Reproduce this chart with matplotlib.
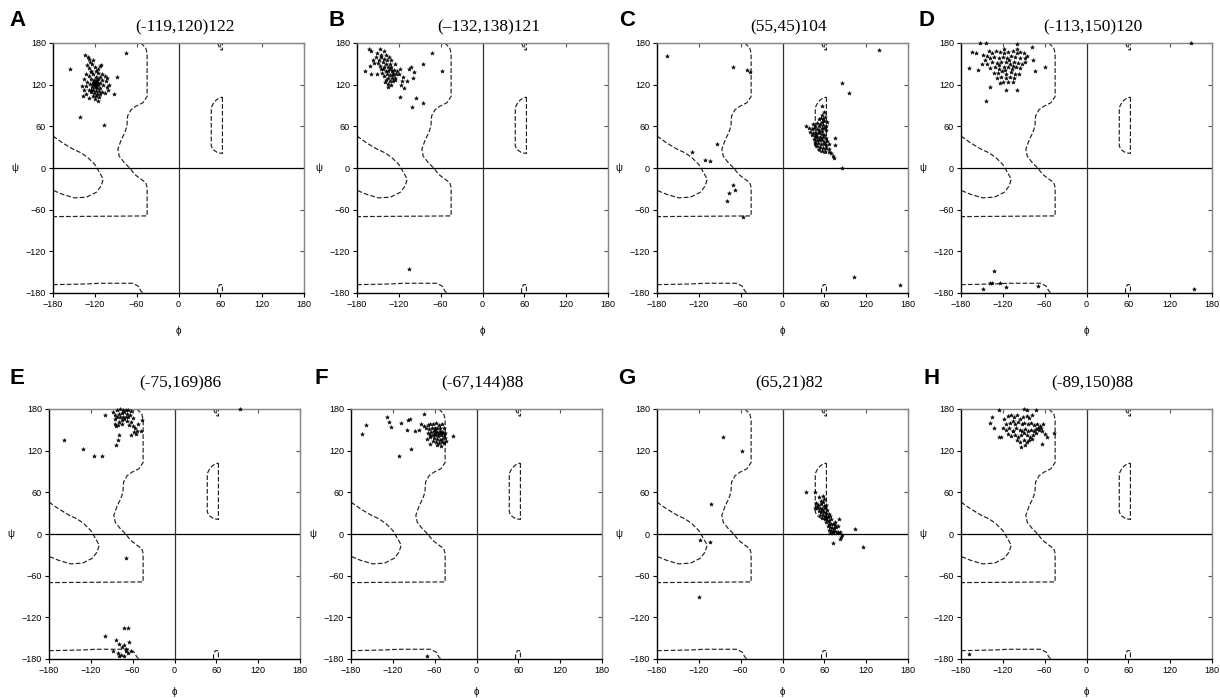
import numpy as np
import matplotlib.pyplot as plt

plt.rcParams['font.family'] = ['Liberation Sans', 'DejaVu Sans']

panel_letters = ['A', 'B', 'C', 'D', 'E', 'F', 'G', 'H']
panel_titles = ['(-119,120)122', '(\u2013132,138)121', '(55,45)104', '(-113,150)120',
                '(-75,169)86', '(-67,144)88', '(65,21)82', '(-89,150)88']
ticks = [-180, -120, -60, 0, 60, 120, 180]

# allowed-region outlines (phi, psi), same in every panel
region_main = [(-54, 180), (-47, 173), (-45, 165), (-45, 103), (-51, 94), (-61, 89), (-68, 84),
               (-73, 75), (-74, 60), (-77, 51), (-82, 41), (-87, 27), (-85, 17), (-78, 8),
               (-70, 0), (-63, -9), (-54, -16), (-47, -21), (-45, -28), (-45, -69), (-180, -70)]
region_left = [(-180, 46), (-166, 36), (-151, 27), (-140, 22), (-130, 15), (-120, 5), (-113, -7),
               (-108, -16), (-111, -26), (-118, -35), (-132, -42), (-149, -43), (-166, -38),
               (-178, -33), (-180, -33)]
region_bottom = [(-180, -168), (-132, -167), (-113, -166), (-66, -166), (-58, -170), (-54, -177),
                 (-51, -180)]
region_alphaL = [(63, 102), (63, 21), (56, 22), (49, 27), (47, 32), (47, 87), (51, 95), (58, 101),
                 (63, 102)]
region_top60 = [(56, 180), (58, 175), (61, 170), (63, 170), (63, 180)]
region_bot60 = [(56, -180), (56, -172), (59, -168), (63, -168), (63, -180)]
regions = [region_main, region_left, region_bottom, region_alphaL, region_top60, region_bot60]

A_pts = [(-155, 143), (-75, 166), (-141, 73), (-107, 62), (-88, 131), (-93, 107),
         (-134, 163), (-130, 160), (-128, 157), (-127, 152), (-124, 150), (-111, 149), (-113, 147),
         (-120, 145), (-129, 144), (-126, 140), (-118, 139), (-115, 137), (-110, 136), (-132, 136),
         (-122, 135), (-128, 132), (-119, 131), (-113, 131), (-106, 133), (-135, 128), (-125, 128),
         (-121, 127), (-117, 127), (-110, 127), (-104, 125), (-131, 124), (-123, 124), (-119, 123),
         (-115, 123), (-112, 122), (-127, 121), (-121, 120), (-118, 120), (-116, 119), (-108, 119),
         (-133, 118), (-124, 117), (-120, 116), (-117, 115), (-113, 115), (-103, 116), (-129, 113),
         (-122, 112), (-119, 111), (-114, 111), (-110, 110), (-136, 112), (-126, 109), (-121, 108),
         (-117, 107), (-112, 106), (-105, 108), (-137, 104), (-132, 106), (-123, 104), (-118, 103),
         (-114, 102), (-120, 99), (-116, 97), (-128, 101), (-101, 112), (-99, 120), (-139, 118),
         (-102, 130), (-125, 138), (-116, 142), (-131, 148), (-122, 155), (-119, 126), (-123, 121),
         (-118, 117), (-120, 123), (-115, 128), (-125, 113)]

B_pts = [(-163, 171), (-160, 168), (-152, 165), (-147, 172), (-141, 168), (-138, 163), (-145, 160),
         (-153, 160), (-157, 156), (-149, 156), (-141, 157), (-137, 155), (-143, 152), (-150, 151),
         (-155, 151), (-139, 150), (-133, 150), (-147, 147), (-141, 146), (-136, 146), (-131, 145),
         (-161, 147), (-168, 139), (-160, 136), (-151, 136), (-144, 137), (-139, 139), (-135, 140),
         (-130, 139), (-127, 141), (-122, 140), (-137, 135), (-132, 134), (-128, 134), (-124, 135),
         (-141, 132), (-135, 130), (-130, 129), (-125, 130), (-138, 127), (-133, 125), (-128, 126),
         (-135, 121), (-131, 120), (-136, 117), (-118, 142), (-120, 135), (-126, 150), (-131, 156),
         (-134, 160), (-103, 146), (-98, 138), (-99, 130), (-114, 131), (-115, 125), (-117, 119),
         (-113, 115), (-109, 125), (-105, 143), (-119, 102), (-96, 101), (-101, 88), (-86, 94),
         (-85, 150), (-73, 166), (-58, 139), (-105, -145), (-146, 143), (-143, 143), (-129, 137),
         (-126, 127), (-140, 124), (-145, 163), (-133, 143)]

C_pts = [(56, 89), (59, 80), (57, 76), (61, 74), (55, 72), (52, 70), (60, 68), (57, 66), (64, 66),
         (50, 65), (54, 64), (58, 62), (47, 61), (52, 60), (56, 58), (60, 57), (34, 60), (38, 58),
         (42, 56), (45, 57), (49, 56), (53, 55), (57, 53), (62, 55), (40, 52), (44, 51), (48, 50),
         (52, 50), (56, 49), (60, 48), (43, 47), (47, 46), (50, 45), (54, 45), (58, 44), (62, 43),
         (45, 42), (49, 41), (52, 40), (56, 40), (60, 38), (64, 39), (47, 37), (51, 36), (55, 35),
         (59, 34), (63, 33), (67, 35), (50, 32), (54, 30), (58, 29), (62, 29), (66, 28), (52, 27),
         (57, 25), (61, 24), (66, 23), (69, 21), (72, 18), (74, 15), (48, 48), (53, 52), (55, 42),
         (46, 35), (58, 71), (62, 61), (44, 63),
         (75, 33), (75, 43), (85, 0), (85, 122), (95, 108), (138, 170), (103, -157), (168, -168),
         (-165, 161), (-71, 146), (-51, 141), (-47, 138), (-130, 23), (-111, 12), (-104, 10),
         (-94, 35), (-71, -25), (-68, -32), (-77, -36), (-80, -47), (-56, -70)]

D_pts = [(-153, 180), (-144, 180), (-100, 178), (150, 180), (154, -174), (-133, -149), (-136, -166),
         (-139, -166), (-124, -165), (-148, -174), (-115, -172), (-69, -170),
         (-144, 96), (-139, 116), (-116, 112), (-100, 113), (-168, 144), (-155, 141), (-164, 167),
         (-159, 166), (-59, 145), (-74, 139), (-77, 156), (-78, 174), (-88, 153),
         (-148, 163), (-140, 168), (-135, 165), (-130, 168), (-124, 167), (-118, 166), (-112, 167),
         (-106, 168), (-100, 166), (-95, 167), (-90, 165), (-85, 162), (-145, 155), (-138, 158),
         (-132, 160), (-126, 159), (-120, 160), (-114, 159), (-108, 161), (-102, 160), (-96, 159),
         (-150, 150), (-142, 150), (-135, 152), (-128, 151), (-122, 153), (-116, 152), (-110, 150),
         (-104, 153), (-98, 151), (-92, 150), (-138, 144), (-131, 145), (-125, 143), (-119, 146),
         (-113, 145), (-107, 143), (-101, 145), (-95, 144), (-133, 137), (-127, 137), (-121, 139),
         (-115, 136), (-109, 138), (-103, 136), (-97, 135), (-128, 130), (-122, 131), (-116, 130),
         (-110, 131), (-104, 129), (-120, 124), (-113, 124), (-124, 122), (-106, 124), (-117, 141),
         (-111, 155), (-105, 147), (-126, 148), (-118, 171), (-100, 172), (-142, 162), (-88, 158)]

E_pts = [(-159, 135), (-131, 123), (-116, 112), (-104, 112), (-84, 128), (-81, 135), (-79, 142),
         (-99, 171), (-86, 159), (-70, -34), (94, 180),
         (-100, -147), (-72, -136), (-67, -135), (-84, -152), (-65, -156), (-79, -158), (-73, -160),
         (-81, -172), (-77, -174), (-70, -169), (-67, -171), (-62, -168), (-88, -169), (-75, -163),
         (-69, -165), (-73, -175), (-80, -176),
         (-88, 175), (-83, 178), (-78, 180), (-74, 179), (-70, 178), (-66, 179), (-62, 177),
         (-85, 172), (-80, 173), (-76, 174), (-72, 175), (-68, 173), (-64, 172), (-82, 168),
         (-78, 169), (-74, 168), (-70, 169), (-66, 168), (-76, 164), (-72, 165), (-80, 162),
         (-68, 163), (-84, 156), (-76, 159), (-65, 157), (-60, 156), (-57, 152), (-54, 149),
         (-48, 149), (-46, 164), (-55, 144), (-62, 142), (-58, 147), (-52, 158), (-63, 162),
         (-59, 167), (-86, 165), (-81, 157)]

F_pts = [(-164, 144), (-158, 157), (-129, 168), (-126, 161), (-123, 154), (-108, 160), (-100, 150),
         (-98, 164), (-95, 166), (-111, 113), (-94, 123), (-75, 173), (-88, 149), (-83, 150),
         (-71, 137), (-66, 129), (-71, -176), (-34, 141),
         (-80, 158), (-76, 155), (-73, 152), (-70, 157), (-66, 159), (-62, 158), (-58, 160),
         (-54, 157), (-49, 158), (-68, 151), (-64, 152), (-60, 153), (-56, 152), (-52, 153),
         (-47, 152), (-69, 146), (-65, 147), (-61, 148), (-57, 147), (-53, 146), (-49, 147),
         (-45, 146), (-63, 142), (-59, 143), (-55, 141), (-51, 142), (-47, 141), (-66, 140),
         (-61, 138), (-57, 137), (-53, 136), (-49, 137), (-45, 138), (-58, 132), (-54, 131),
         (-50, 132), (-46, 131), (-56, 128), (-51, 127), (-62, 134), (-44, 134), (-67, 143),
         (-59, 150), (-48, 145), (-55, 144), (-52, 149), (-60, 145)]

G_pts = [(-85, 140), (-58, 120), (-102, 43), (-118, -9), (-104, -12), (-120, -90), (33, 61), (46, 61),
         (104, 7), (116, -18), (73, -13), (81, 21),
         (53, 53), (55, 47), (58, 46), (59, 50), (48, 44), (51, 42), (55, 43), (59, 41), (62, 42),
         (47, 38), (50, 37), (54, 38), (57, 36), (61, 37), (64, 35), (52, 33), (55, 32), (59, 31),
         (63, 30), (66, 29), (54, 28), (58, 27), (61, 25), (65, 25), (68, 26), (57, 23), (61, 21),
         (64, 20), (67, 19), (70, 21), (62, 17), (66, 15), (69, 14), (72, 15), (75, 13), (65, 11),
         (68, 10), (71, 9), (74, 8), (77, 10), (67, 6), (70, 5), (73, 4), (76, 5), (80, 3), (68, 2),
         (72, 1), (78, 1), (83, 3), (84, -4), (86, -2), (82, -7), (76, 17), (80, 12), (58, 55),
         (50, 40), (56, 34), (63, 26)]

H_pts = [(-169, -173), (-47, 145), (-64, 130), (-94, 125), (-136, 169), (-138, 160), (-133, 152),
         (-126, 140), (-123, 139), (-126, 178), (-85, 179), (-73, 179), (-89, 180),
         (-118, 165), (-113, 170), (-108, 172), (-104, 168), (-100, 171), (-95, 166), (-91, 168),
         (-86, 170), (-82, 167), (-78, 171), (-115, 158), (-110, 160), (-106, 163), (-102, 159),
         (-98, 161), (-93, 158), (-89, 160), (-84, 158), (-80, 160), (-75, 157), (-71, 159),
         (-67, 156), (-120, 152), (-116, 150), (-111, 153), (-106, 148), (-101, 152), (-96, 150),
         (-92, 148), (-88, 151), (-84, 149), (-80, 150), (-76, 148), (-72, 151), (-68, 150),
         (-64, 148), (-60, 144), (-113, 144), (-108, 141), (-103, 143), (-98, 140), (-94, 143),
         (-89, 146), (-85, 142), (-81, 140), (-77, 143), (-73, 145), (-69, 152), (-65, 153),
         (-100, 135), (-95, 133), (-90, 135), (-86, 132), (-82, 136), (-78, 137), (-88, 128),
         (-105, 148), (-57, 140), (-62, 158)]

all_pts = [A_pts, B_pts, C_pts, D_pts, E_pts, F_pts, G_pts, H_pts]

W, H = 1220, 698
fig = plt.figure(figsize=(W / 100, H / 100), dpi=100)

# axes boxes in pixels: left, top
boxes = [(53, 43), (357, 43), (657, 43), (961, 43),
         (49, 409), (351, 409), (657, 409), (961, 409)]
aw, ah = 251, 250

for i in range(8):
    left, top = boxes[i]
    ax = fig.add_axes([left / W, 1 - (top + ah) / H, aw / W, ah / H])
    ax.set_xlim(-180, 180)
    ax.set_ylim(-180, 180)

    for reg in regions:
        r = np.array(reg)
        ax.plot(r[:, 0], r[:, 1], color='#222222', lw=0.85, dashes=(4, 1.8))

    ax.axhline(0, color='k', lw=0.9)
    ax.axvline(0, color='#333333', lw=0.9)

    p = np.array(all_pts[i])
    ax.plot(p[:, 0], p[:, 1], '*', color='k', ms=3.0, mew=0.3, clip_on=False, zorder=5)

    ax.set_xticks(ticks)
    ax.set_yticks(ticks)
    ax.tick_params(labelsize=6.5, length=3, width=0.8, pad=2)
    for s in ['left', 'bottom']:
        ax.spines[s].set_linewidth(1.0)
    for s in ['top', 'right']:
        ax.spines[s].set_color('#888888')
        ax.spines[s].set_linewidth(1.0)
    secx = ax.secondary_xaxis('top')
    secx.set_xticks(ticks)
    secx.tick_params(direction='in', length=3, color='#555555', labeltop=False)
    secx.spines['top'].set_color('#888888')
    secy = ax.secondary_yaxis('right')
    secy.set_yticks(ticks)
    secy.tick_params(direction='in', length=3, color='#555555', labelright=False)
    secy.spines['right'].set_color('#888888')

    ax.set_xlabel('\u03d5', fontsize=7, labelpad=12 if i < 4 else 9)
    ax.set_ylabel('\u03c8', fontsize=7, labelpad=8, rotation=0, va='center')

    ty = 1.064 if i < 4 else 1.104
    ax.text(0.525, ty, panel_titles[i], transform=ax.transAxes, ha='center', va='center',
            fontsize=12.5, family=['Liberation Serif', 'DejaVu Serif'])

letter_pos = [(18, 21), (337, 21), (627, 21), (927, 21),
              (17, 378), (321, 378), (627, 378), (932, 378)]
for i in range(8):
    x, y = letter_pos[i]
    fig.text(x / W, 1 - y / H, panel_letters[i], ha='center', va='center',
             fontsize=16, fontweight='bold')

fig.savefig('out.png', dpi=100)
